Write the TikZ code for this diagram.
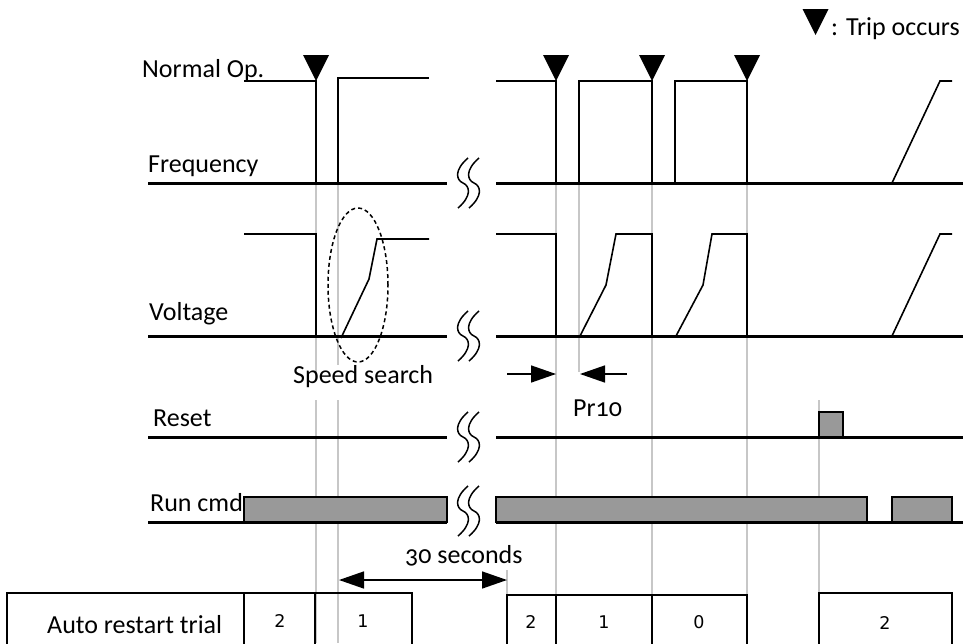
\documentclass[tikz,border=0pt]{standalone}
\usepackage{fontspec}
\setmainfont{Carlito}[Numbers=OldStyle]
\newfontfamily\numfont{DejaVu Sans}
\usetikzlibrary{arrows.meta}
\newcommand\squig[2]{%
  \draw[wave] (#1+5,#2-25) .. controls (#1-9,#2-13) and (#1-7,#2-3) .. (#1,#2)
     .. controls (#1+7,#2+3) and (#1+9,#2+13) .. (#1-5,#2+25);}
\newcommand\tripmark[2]{\fill (#1,#2) -- ++(-13,-26) -- ++(26,0) -- cycle;}
\begin{document}
\begin{tikzpicture}[x=1pt,y=-1pt,
  base/.style={line width=3pt},
  sig/.style={line width=1.6pt, line join=miter},
  guide/.style={line width=1.3pt, draw=black!22},
  runbox/.style={draw=black, line width=1.4pt, fill=black!40},
  tbl/.style={draw=black, line width=1.6pt},
  lbl/.style={font=\fontsize{26}{30}\selectfont, inner sep=0pt, anchor=base west},
  num/.style={font=\numfont\fontsize{17.5}{20}\selectfont, inner sep=0pt, anchor=base},
  wave/.style={line width=1.5pt},
  bigarrow/.style={-{Triangle[length=25pt,width=17pt]}, line width=1.5pt}
]
\fill[white] (0,0) rectangle (964,643);
\useasboundingbox (0,0) rectangle (964,643);

% guide lines
\draw[guide] (316,183) -- (316,380) (316,400) -- (316,643);
\draw[guide] (338,183) -- (338,365) (338,400) -- (338,643);
\draw[guide] (556,183) -- (556,643);
\draw[guide] (579,183) -- (579,372);
\draw[guide] (652,183) -- (652,643);
\draw[guide] (747,183) -- (747,643);
\draw[guide] (819,400) -- (819,593);
\draw[guide] (507,570) -- (507,595);

% Frequency
\draw[sig] (244,81) -- (316,81) -- (316,183);
\draw[sig] (338,183) -- (338,78) -- (429,78);
\draw[sig] (496,81) -- (556,81) -- (556,183);
\draw[sig] (579,183) -- (579,81) -- (652,81) -- (652,183);
\draw[sig] (675,183) -- (675,81) -- (747,81) -- (747,183);
\draw[sig] (892,183) -- (940,81) -- (952,81);
\draw[base] (148,183) -- (447,183);
\draw[base] (496,183) -- (963,183);

% Voltage
\draw[sig] (244,234) -- (316,234) -- (316,336);
\draw[sig] (341,338) -- (369,279) -- (377,239) -- (429,239);
\draw[sig] (496,234) -- (556,234) -- (556,336);
\draw[sig] (580,336) -- (606,285) -- (616,234) -- (652,234) -- (652,336);
\draw[sig] (676,336) -- (703,285) -- (712,234) -- (747,234) -- (747,336);
\draw[sig] (892,336) -- (940,234) -- (952,234);
\draw[base] (148,336) -- (447,336);
\draw[base] (496,336) -- (963,336);
\draw[line width=1.5pt, dash pattern=on 4pt off 3pt] (358,285) ellipse [x radius=30pt, y radius=77pt];

% Reset
\filldraw[runbox] (819,437) rectangle (843,412);
\draw[base] (148,437) -- (447,437);
\draw[base] (496,437) -- (963,437);

% Run cmd
\node[lbl] (runl) at (150,511) {Run cmd};
\filldraw[runbox] (244,497) rectangle (447,522);
\filldraw[runbox] (496,497) rectangle (867,522);
\filldraw[runbox] (892,497) rectangle (952,522);
\draw[base] (148,522) -- (447,522);
\draw[base] (496,522) -- (963,522);

% breaks
\squig{463}{183}\squig{474}{183}
\squig{463}{336}\squig{474}{336}
\squig{463}{437}\squig{474}{437}
\squig{463}{511}\squig{474}{511}

% trip marks
\tripmark{316}{81}
\tripmark{556}{81}
\tripmark{652}{81}
\tripmark{747}{81}
\tripmark{815.5}{35}

% arrows
\draw[bigarrow] (507,374) -- (556,374);
\draw[bigarrow] (627,374) -- (580,374);
\draw[{Triangle[length=25pt,width=17pt]}-{Triangle[length=25pt,width=17pt]}, line width=1.5pt] (339,580) -- (507,580);

% table
\draw[tbl] (7,650) -- (7,593) -- (412,593) -- (412,650);
\draw[tbl] (244,593) -- (244,650) (315,593) -- (315,650);
\draw[tbl] (507,650) -- (507,595) -- (747,595) -- (747,650);
\draw[tbl] (556,595) -- (556,650) (652,595) -- (652,650);
\draw[tbl] (819,650) -- (819,593) -- (952,593) -- (952,650);

% labels
\node[lbl] (normal) at (142,77) {Normal Op.};
\node[lbl] (freq) at (148,172) {Frequency};
\node[lbl] (volt) at (149,320) {Voltage};
\node[lbl] (ss) at (293,383) {Speed search};
\node[lbl] (reset) at (153,426) {Reset};
\node[lbl] (pr) at (573,416) {Pr10};
\node[lbl] (thirty) at (405,563) {30 seconds};
\node[lbl] (auto) at (47,633) {Auto restart trial};
\node[lbl] (legend) at (831,35) {: Trip occurs};

\node[num] (n1) at (280,627) {2};
\node[num] (n2) at (363,627) {1};
\node[num] (n3) at (531,628) {2};
\node[num] (n4) at (604,628) {1};
\node[num] (n5) at (699,628) {0};
\node[num] (n6) at (885,629) {2};
\end{tikzpicture}
\end{document}
